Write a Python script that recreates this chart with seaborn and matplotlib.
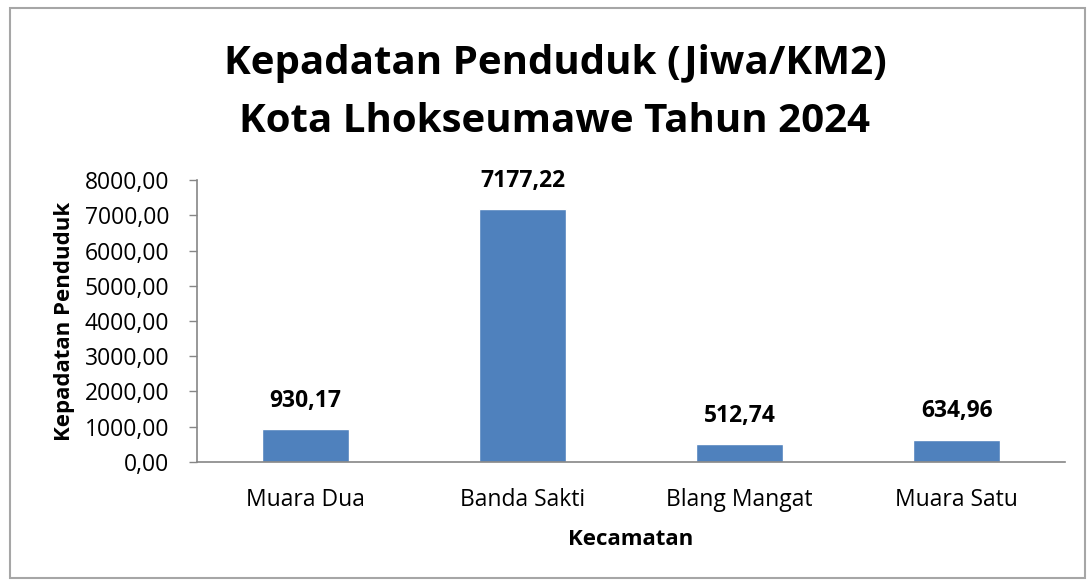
import pandas as pd
import seaborn as sns
import matplotlib.pyplot as plt
from matplotlib.ticker import FuncFormatter
from matplotlib.patches import Rectangle

# data kepadatan penduduk per kecamatan
kecamatan = ['Muara Dua', 'Banda Sakti', 'Blang Mangat', 'Muara Satu']
kepadatan = [930.17, 7177.22, 512.74, 634.96]
y_ticks = [0, 1000, 2000, 3000, 4000, 5000, 6000, 7000, 8000]

df = pd.DataFrame({'Kecamatan': kecamatan, 'Kepadatan': kepadatan})

sns.set_theme(style='white')
plt.rcParams['font.family'] = ['Open Sans', 'DejaVu Sans']
plt.rcParams['text.color'] = 'black'
plt.rcParams['axes.labelcolor'] = 'black'
plt.rcParams['xtick.color'] = 'black'
plt.rcParams['ytick.color'] = 'black'


def koma(v, pos=None):
    return '{:.2f}'.format(v).replace('.', ',')


fig = plt.figure(figsize=(10.88, 5.81), dpi=100)
ax = fig.add_axes([0.181, 0.205, 0.798, 0.485])

sns.barplot(data=df, x='Kecamatan', y='Kepadatan', color='#4F81BD',
            saturation=1, width=0.4, ax=ax)

ax.set_ylim(0, 8000)
ax.set_xlim(-0.5, 3.5)
ax.set_yticks(y_ticks)
ax.yaxis.set_major_formatter(FuncFormatter(koma))
ax.tick_params(axis='y', labelsize=16.5, length=6, width=1, color='#868686',
               direction='out', left=True, pad=14, labelcolor='black')
ax.tick_params(axis='x', labelsize=16.5, length=0, pad=19, labelcolor='black')

for s in ['top', 'right']:
    ax.spines[s].set_visible(False)
for s in ['left', 'bottom']:
    ax.spines[s].set_color('#868686')
    ax.spines[s].set_linewidth(1.2)

ax.set_xlabel('Kecamatan', fontsize=16, fontweight='bold', labelpad=12)
ax.set_ylabel('Kepadatan Penduduk', fontsize=16, fontweight='bold', labelpad=7)

# label nilai di atas batang
for i, v in enumerate(kepadatan):
    ax.annotate(koma(v), (i, v), xytext=(0, 16), textcoords='offset points',
                ha='center', va='baseline', fontsize=16.5, fontweight='bold')

fig.text(0.510, 0.873, 'Kepadatan Penduduk (Jiwa/KM2)', ha='center',
         va='baseline', fontsize=29, fontweight='bold')
fig.text(0.510, 0.773, 'Kota Lhokseumawe Tahun 2024', ha='center',
         va='baseline', fontsize=29, fontweight='bold')

# bingkai chart
fig.patches.append(Rectangle((0.009, 0.005), 0.988, 0.981, transform=fig.transFigure,
                             fill=False, edgecolor='#A6A6A6', linewidth=1.5))

plt.savefig('out.png', dpi=100)
